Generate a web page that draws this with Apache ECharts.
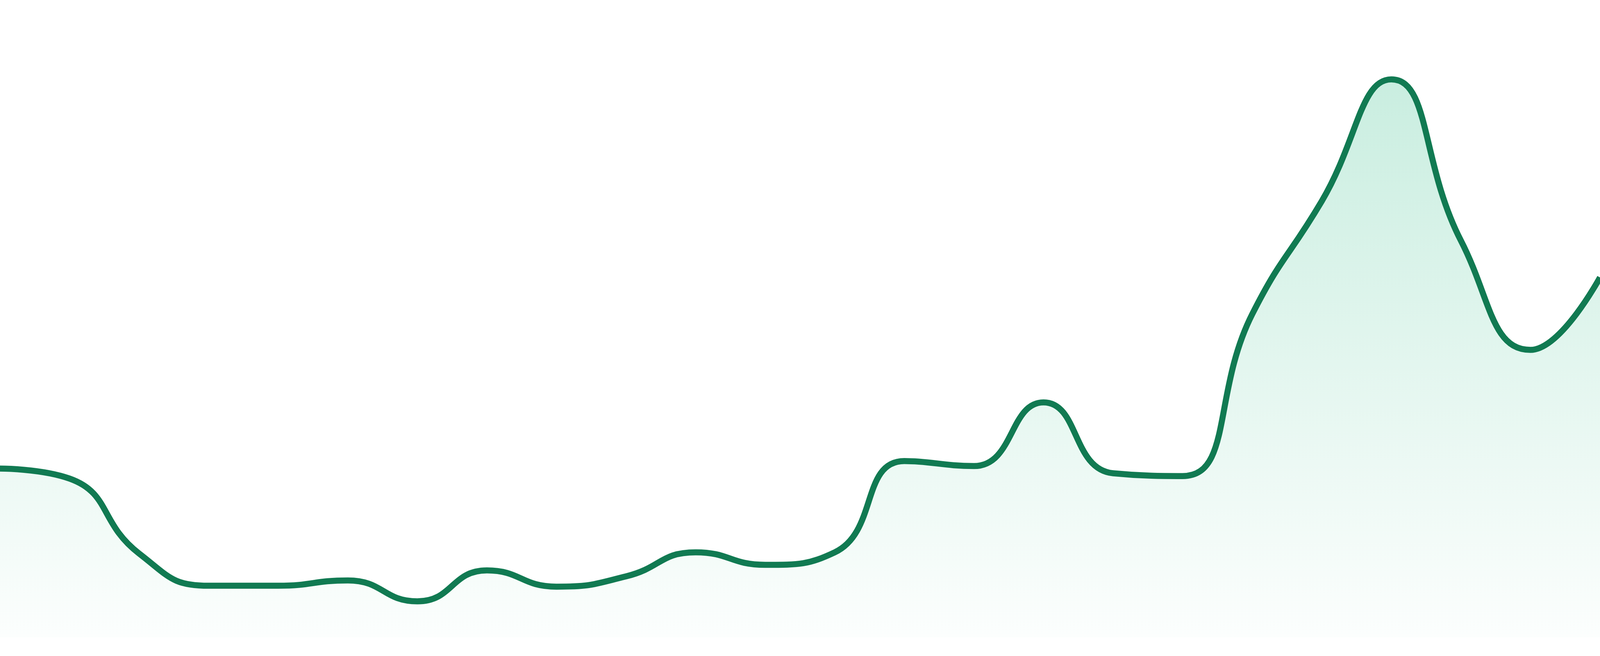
<!DOCTYPE html>
<html>
<head>
<meta charset="utf-8">
<style>
  html, body { margin: 0; padding: 0; background: #ffffff; overflow: hidden; }
  #chart { width: 100vw; height: 100vh; }
</style>
<script src="https://cdn.jsdelivr.net/npm/echarts@6/dist/echarts.min.js"></script>
</head>
<body>
<div id="chart"></div>
<script>
const categories = ['1','2','3','4','5','6','7','8','9','10','11','12','13','14','15','16','17','18','19','20','21','22','23','24'];
const values = [27.0, 25.4, 13.4, 8.25, 8.25, 9.1, 5.75, 10.7, 8.1, 9.75, 13.6, 11.6, 13.6, 28.2, 27.4, 37.6, 26.25, 25.8, 51.7, 69.8, 89.3, 63.5, 46.0, 57.6];
const yMin = 0;
const yMax = 102;

const chart = echarts.init(document.getElementById('chart'), null, { renderer: 'canvas' });
chart.setOption({
  animation: false,
  backgroundColor: '#ffffff',
  grid: { left: 0, right: 0, top: 0, bottom: '2.857%', containLabel: false },
  xAxis: { type: 'category', data: categories, boundaryGap: false, show: false },
  yAxis: { type: 'value', min: yMin, max: yMax, show: false },
  series: [{
    type: 'line',
    data: values,
    smooth: true,
    symbol: 'none',
    lineStyle: { color: '#117a52', width: 15.5 },
    areaStyle: {
      color: new echarts.graphic.LinearGradient(0, 0, 0, 1, [
        { offset: 0, color: 'rgba(22,180,120,0.33)' },
        { offset: 1, color: 'rgba(22,180,120,0.02)' }
      ])
    }
  }]
});
</script>
</body>
</html>
